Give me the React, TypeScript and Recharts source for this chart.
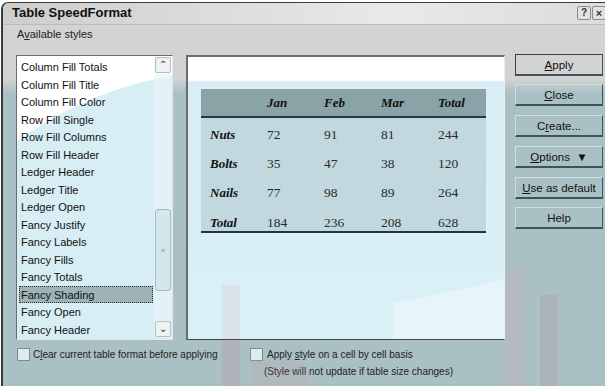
import React from 'react';
import { ScatterChart, Scatter, XAxis, YAxis } from 'recharts';

const months = ['Jan', 'Feb', 'Mar', 'Total'];
const items = ['Nuts', 'Bolts', 'Nails', 'Total'];
const nutsValues = [72, 91, 81, 244];
const boltsValues = [35, 47, 38, 120];
const nailsValues = [77, 98, 89, 264];
const totalValues = [184, 236, 208, 628];
const styleNames = [
  'Column Fill Totals', 'Column Fill Title', 'Column Fill Color', 'Row Fill Single',
  'Row Fill Columns', 'Row Fill Header', 'Ledger Header', 'Ledger Title', 'Ledger Open',
  'Fancy Justify', 'Fancy Labels', 'Fancy Fills', 'Fancy Totals', 'Fancy Shading',
  'Fancy Open', 'Fancy Header',
];
const selectedStyle = 'Fancy Shading';

const rowValues = [nutsValues, boltsValues, nailsValues, totalValues];
const cells = items.flatMap((row, r) =>
  months.map((col, c) => ({ col, row, value: rowValues[r][c] }))
);

const UI = '"Liberation Sans", Arial, sans-serif';
const SERIF = '"Liberation Serif", "Times New Roman", serif';

function HeaderTick(p: any) {
  return (
    <text x={p.x} y={p.y} dy={-4} textAnchor="start" fontFamily={SERIF} fontSize={13}
      fontWeight="bold" fontStyle="italic" fill="#111">{p.payload.value}</text>
  );
}
function RowTick(p: any) {
  return (
    <text x={p.x} y={p.y} dy="0.35em" textAnchor="start" fontFamily={SERIF} fontSize={13}
      fontWeight="bold" fontStyle="italic" fill="#111">{p.payload.value}</text>
  );
}
function CellText(p: any) {
  return (
    <text x={p.cx} y={p.cy} dy="0.35em" textAnchor="start" fontFamily={SERIF} fontSize={13.5}
      fill="#2a2a2a">{p.payload.value}</text>
  );
}

function TableChart() {
  return (
    <ScatterChart width={285} height={150} margin={{ top: 0, right: 19.5, bottom: 2.3, left: 0 }}>
      <XAxis type="category" dataKey="col" orientation="top" height={30.3} allowDuplicatedCategory={false}
        axisLine={false} tickLine={false} tick={<HeaderTick />} interval={0} />
      <YAxis type="category" dataKey="row" width={37.5} allowDuplicatedCategory={false} reversed
        axisLine={false} tickLine={false} tickSize={0} tickMargin={28.5} tick={<RowTick />} interval={0} />
      <Scatter data={cells} isAnimationActive={false} shape={(p: any) => <CellText {...p} />} />
    </ScatterChart>
  );
}

const abs = (l: number, t: number, w: number, h: number, extra: any = {}) => ({
  position: 'absolute' as const, left: l, top: t, width: w, height: h, ...extra,
});

function Btn({ top, label, def }: { top: number; label: React.ReactNode; def?: boolean }) {
  return (
    <div style={abs(515, top, 88, 22, {
      boxSizing: 'border-box',
      background: def ? '#d3d3d3' : 'transparent',
      borderTop: def ? '1px solid #404040' : '1px solid #cfdfe1',
      borderLeft: def ? '1px solid #404040' : '1px solid #cfdfe1',
      borderRight: '1px solid #3e5457',
      borderBottom: '2px solid #3e5457',
      display: 'flex', alignItems: 'center', justifyContent: 'center',
      fontFamily: UI, fontSize: 11.5, color: '#111', whiteSpace: 'nowrap',
    })}>{label}</div>
  );
}

export default function App() {
  const buttonTops = [54, 84, 115, 146, 177, 207];
  return (
    <div style={abs(0, 0, 605, 386, { overflow: 'hidden', background: '#ffffff' })}>
      {/* dialog body */}
      <div style={abs(1, 2, 610, 390, {
        background: 'linear-gradient(to bottom, #d3d3d3 0px, #d3d3d3 76px, #a9c0c4 90px, #a9c0c4 100%)',
        borderLeft: '2px solid #3a3a3a', borderTop: '1px solid #3a3a3a', borderTopLeftRadius: 7,
        boxSizing: 'border-box',
      })} />
      {/* title bar */}
      <div style={abs(3, 3, 602, 21, {
        background: 'linear-gradient(to right, #cdcdcd, #e9e9e9 65%, #dcdcdc)', borderTopLeftRadius: 6,
        borderBottom: '1px solid #bdbdbd',
      })} />
      <div style={abs(12, 2, 200, 21, {
        fontFamily: UI, fontWeight: 'bold', fontSize: 13, color: '#111', lineHeight: '21px',
      })}>Table SpeedFormat</div>
      <div style={abs(577, 6, 14, 14, {
        boxSizing: 'border-box', border: '1px solid #8a8a8a', background: '#e2e2e2', borderRadius: 2,
        fontFamily: UI, fontWeight: 'bold', fontSize: 10, textAlign: 'center', lineHeight: '12px', color: '#333',
      })}>?</div>
      <div style={abs(592, 6, 14, 14, {
        boxSizing: 'border-box', border: '1px solid #8a8a8a', background: '#e2e2e2', borderRadius: 2,
        fontFamily: UI, fontWeight: 'bold', fontSize: 11, textAlign: 'center', lineHeight: '12px', color: '#333',
      })}>×</div>

      {/* label */}
      <div style={abs(17, 26, 120, 16, { fontFamily: UI, fontSize: 11, color: '#222', lineHeight: '16px' })}>
        A<u>v</u>ailable styles
      </div>

      {/* listbox */}
      <div style={abs(16, 55, 157, 285, {
        boxSizing: 'border-box', borderTop: '1px solid #6d6d6d', borderLeft: '1px solid #6d6d6d',
        borderRight: '1px solid #e8e8e8', borderBottom: '1px solid #e8e8e8', background: '#ffffff', overflow: 'hidden',
      })}>
        <div style={abs(-146, 15, 720, 720, { borderRadius: '50%', background: '#d6eef4' })} />
        {styleNames.map((s, i) => {
          const sel = s === selectedStyle;
          return (
            <div key={s} style={abs(2, 2 + i * 17.5, 134, 17, {
              boxSizing: 'border-box', fontFamily: UI, fontSize: 11, color: '#111', lineHeight: '16px',
              paddingLeft: 1, whiteSpace: 'nowrap',
              background: sel ? '#9db3b6' : 'transparent', border: sel ? '1px dotted #333' : '1px solid transparent',
            })}>{s}</div>
          );
        })}
        {/* scrollbar */}
        <div style={abs(137, 1, 17, 281, { background: 'rgba(235,245,247,0.6)' })} />
        <div style={abs(138, 1, 16, 16, {
          boxSizing: 'border-box', border: '1px solid #b5bfc0', background: '#eef2f2', borderRadius: 2,
          fontFamily: UI, fontSize: 10, textAlign: 'center', lineHeight: '14px', color: '#333',
        })}>⌃</div>
        <div style={abs(138, 153, 16, 82, {
          boxSizing: 'border-box', border: '1px solid #a9b8ba', background: '#d2e8ec', borderRadius: 3,
          display: 'flex', alignItems: 'center', justifyContent: 'center', fontSize: 8, color: '#889',
        })}>≡</div>
        <div style={abs(138, 265, 16, 16, {
          boxSizing: 'border-box', border: '1px solid #b5bfc0', background: '#eef2f2', borderRadius: 2,
          fontFamily: UI, fontSize: 10, textAlign: 'center', lineHeight: '14px', color: '#333',
        })}>⌄</div>
      </div>

      {/* preview box */}
      <div style={abs(186, 55, 319, 285, {
        boxSizing: 'border-box', borderTop: '2px solid #6d6d6d', borderLeft: '2px solid #6d6d6d',
        borderRight: '1px solid #eeeeee', borderBottom: '1px solid #444',
        background: 'linear-gradient(to bottom, #ffffff 0px, #ffffff 23px, #d8eef4 25px, #d9f0f6 100%)',
        overflow: 'hidden',
      })}>
        <div style={abs(205, 225, 200, 120, { background: 'rgba(255,255,255,0.35)', transform: 'skewY(-12deg)' })} />
        <div style={abs(34, 228, 18, 80, { background: 'rgba(210,140,160,0.12)' })} />
      </div>

      {/* table bands */}
      <div style={abs(201, 89, 285, 27, { background: '#8aa3a6' })} />
      <div style={abs(201, 116, 285, 2, { background: '#1d3a40' })} />
      <div style={abs(201, 118, 285, 113, { background: '#c1d9de' })} />
      <div style={abs(201, 231, 285, 2, { background: '#1d3a40' })} />
      <div style={abs(201, 89, 285, 150)}>
        <TableChart />
      </div>

      {/* buttons */}
      <Btn top={buttonTops[0]} def label={<span><u>A</u>pply</span>} />
      <Btn top={buttonTops[1]} label={<span><u>C</u>lose</span>} />
      <Btn top={buttonTops[2]} label={<span>C<u>r</u>eate...</span>} />
      <Btn top={buttonTops[3]} label={<span><u>O</u>ptions&nbsp;&nbsp;▼</span>} />
      <Btn top={buttonTops[4]} label={<span><u>U</u>se as default</span>} />
      <Btn top={buttonTops[5]} label={<span>Help</span>} />

      {/* checkboxes */}
      <div style={abs(17, 348, 13, 13, { boxSizing: 'border-box', border: '1px solid #7d8e90', background: '#dcecef' })} />
      <div style={abs(33, 347, 220, 16, { fontFamily: UI, fontSize: 10, color: '#222', lineHeight: '16px', whiteSpace: 'nowrap' })}>
        C<u>l</u>ear current table format before applying
      </div>
      <div style={abs(250, 348, 13, 13, { boxSizing: 'border-box', border: '1px solid #7d8e90', background: '#dcecef' })} />
      <div style={abs(267, 347, 250, 16, { fontFamily: UI, fontSize: 10, color: '#222', lineHeight: '16px', whiteSpace: 'nowrap' })}>
        Apply <u>s</u>tyle on a cell by cell basis
      </div>
      <div style={abs(264, 364, 260, 16, { fontFamily: UI, fontSize: 10, color: '#222', lineHeight: '16px', whiteSpace: 'nowrap' })}>
        (Style will not update if table size changes)
      </div>

      {/* faint watermark */}
      <div style={abs(222, 340, 18, 46, { background: 'rgba(200,120,140,0.18)' })} />
      <div style={abs(250, 360, 60, 26, { background: 'rgba(220,150,160,0.15)', borderRadius: '0 20px 0 0' })} />
      <div style={abs(505, 268, 20, 118, { background: 'rgba(215,170,180,0.22)' })} />
      <div style={abs(540, 295, 18, 91, { background: 'rgba(180,130,150,0.2)' })} />
    </div>
  );
}
